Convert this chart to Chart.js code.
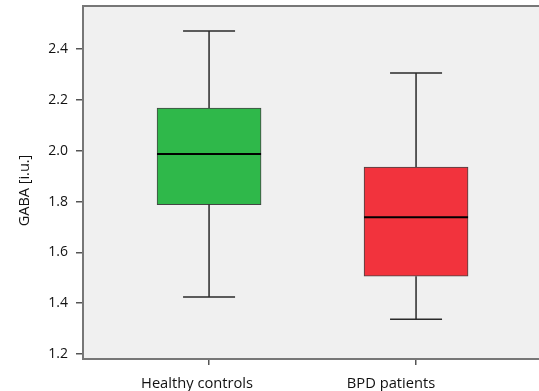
<!DOCTYPE html>
<html>
<head>
<meta charset="utf-8">
<script src="https://cdn.jsdelivr.net/npm/chart.js@4"></script>
<style>
    body { margin: 0; background: #fff; overflow: hidden; }
</style>
</head>
<body>
<canvas id="gabaChart" width="539" height="391"></canvas>
<script>
const categories = ['Healthy controls', 'BPD patients'];
const whiskerLow = [1.424, 1.337];
const q1 = [1.788, 1.506];
const median = [1.987, 1.738];
const q3 = [2.168, 1.936];
const whiskerHigh = [2.472, 2.306];
const boxColors = ['#2fb84a', '#f2333d'];
const yTicks = [1.2, 1.4, 1.6, 1.8, 2.0, 2.2, 2.4];
const yTitle = 'GABA [i.u.]';

// les étiquettes de l'original ne sont pas centrées sous les graduations
const labelShift = [-12, -25];

// fond gris + trait du haut de la zone du graphe
const plotBackground = {
    id: 'plotBackground',
    beforeDraw(chart) {
        const { ctx, chartArea: a } = chart;
        ctx.save();
        ctx.fillStyle = '#f0f0f0';
        ctx.fillRect(a.left, a.top, a.right - a.left, a.bottom - a.top);
        ctx.strokeStyle = '#777';
        ctx.lineWidth = 2;
        ctx.beginPath();
        ctx.moveTo(a.left, a.top);
        ctx.lineTo(a.right, a.top);
        ctx.stroke();
        ctx.restore();
    },
    afterDraw(chart) {
        const { ctx, chartArea: a, scales } = chart;
        ctx.save();
        ctx.fillStyle = '#111';

        // étiquettes des catégories
        ctx.font = '14.7px "Open Sans"';
        ctx.textAlign = 'center';
        ctx.textBaseline = 'alphabetic';
        categories.forEach((c, i) => {
            ctx.fillText(c, scales.x.getPixelForValue(i + 1) + labelShift[i], a.bottom + 29);
        });

        // titre de l'axe y, un peu plus bas que le centre
        ctx.translate(25, (a.top + a.bottom) / 2 + 8);
        ctx.rotate(-Math.PI / 2);
        ctx.font = '14.5px "Open Sans"';
        ctx.textBaseline = 'middle';
        ctx.fillText(yTitle, 0, 0);
        ctx.restore();
    }
};

// moustaches et médianes
const boxWhiskers = {
    id: 'boxWhiskers',
    afterDatasetsDraw(chart) {
        const { ctx, scales } = chart;
        const xs = scales.x, ys = scales.y;
        ctx.save();
        categories.forEach((c, i) => {
            const x = xs.getPixelForValue(i + 1);
            ctx.strokeStyle = '#2a2a2a';
            ctx.lineWidth = 1.5;
            ctx.beginPath();
            ctx.moveTo(x, ys.getPixelForValue(q3[i]));
            ctx.lineTo(x, ys.getPixelForValue(whiskerHigh[i]));
            ctx.moveTo(x, ys.getPixelForValue(q1[i]));
            ctx.lineTo(x, ys.getPixelForValue(whiskerLow[i]));
            ctx.moveTo(x - 26, ys.getPixelForValue(whiskerHigh[i]));
            ctx.lineTo(x + 26, ys.getPixelForValue(whiskerHigh[i]));
            ctx.moveTo(x - 26, ys.getPixelForValue(whiskerLow[i]));
            ctx.lineTo(x + 26, ys.getPixelForValue(whiskerLow[i]));
            ctx.stroke();

            ctx.strokeStyle = '#000';
            ctx.lineWidth = 2;
            ctx.beginPath();
            ctx.moveTo(x - 52, ys.getPixelForValue(median[i]));
            ctx.lineTo(x + 52, ys.getPixelForValue(median[i]));
            ctx.stroke();
        });
        ctx.restore();
    }
};

const ctx = document.getElementById('gabaChart').getContext('2d');
const gabaChart = new Chart(ctx, {
    type: 'bar',
    data: {
        datasets: [{
            data: categories.map((c, i) => ({ x: i + 1, y: [q1[i], q3[i]] })),
            backgroundColor: boxColors,
            borderColor: '#444',
            borderWidth: 1,
            borderSkipped: false,
            barThickness: 104
        }]
    },
    options: {
        responsive: false,
        animation: false,
        devicePixelRatio: 1,
        layout: { padding: { top: 6, right: 0, left: 0, bottom: 0 } },
        plugins: {
            legend: { display: false },
            tooltip: { enabled: false }
        },
        scales: {
            x: {
                type: 'linear',
                offset: false,
                min: 0.391,
                max: 2.594,
                afterBuildTicks: scale => {
                    scale.ticks = categories.map((c, i) => ({ value: i + 1 }));
                },
                afterFit: scale => {
                    scale.height = 32;
                    scale.paddingLeft = 0;
                    scale.paddingRight = 0;
                },
                ticks: { display: false },
                grid: { offset: false, drawOnChartArea: false, tickLength: 6, color: '#555', lineWidth: 1.5 },
                border: { color: '#777', width: 2 }
            },
            y: {
                min: 1.18,
                max: 2.57,
                afterBuildTicks: scale => {
                    scale.ticks = yTicks.map(v => ({ value: v }));
                },
                afterFit: scale => {
                    scale.width = 83;
                    scale.paddingTop = 0;
                    scale.paddingBottom = 0;
                },
                ticks: {
                    callback: v => v.toFixed(1),
                    padding: 8,
                    color: '#111',
                    font: { family: 'Open Sans', size: 14 }
                },
                grid: { drawOnChartArea: false, tickLength: 7, color: '#555', lineWidth: 1.5 },
                border: { color: '#777', width: 2 }
            }
        }
    },
    plugins: [plotBackground, boxWhiskers]
});
</script>
</body>
</html>
